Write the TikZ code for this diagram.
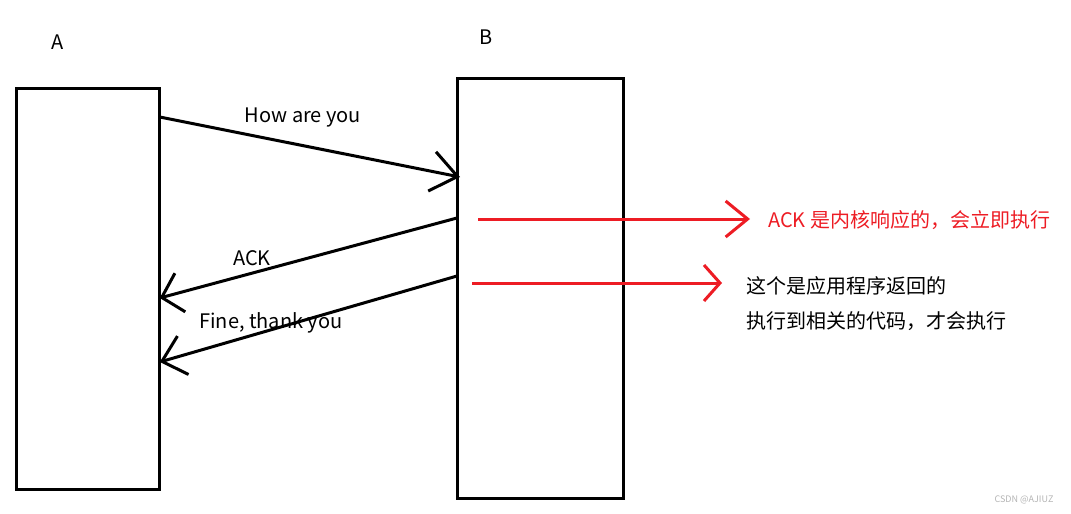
\documentclass[tikz,border=0pt]{standalone}
\usepackage{fontspec}
\setmainfont{Noto Sans CJK SC}
\usetikzlibrary{arrows.meta,positioning}
\definecolor{pred}{HTML}{ED1C24}
\definecolor{wmark}{HTML}{B4B4B4}

\begin{document}
\begin{tikzpicture}[x=1pt,y=-1pt,
  lane/.style={draw,line width=3pt,inner sep=0pt,outer sep=0pt},
  lbl/.style={font=\fontsize{20}{24}\selectfont,inner sep=0pt},
  msg/.style={line width=3pt,-{Straight Barb[length=#1,width=40pt]}},
  ack/.style={line width=3pt,pred,-{Straight Barb[length=#1,width=36pt]}}]
  \useasboundingbox (0,0) rectangle (1071,514);
  \node[lane,minimum width=143.5pt,minimum height=401pt] (a) at (88,288.5) {};
  \node[lane,minimum width=166pt,minimum height=420pt] (b) at (540,288) {};
  \node[lbl] (la) at (58,42) {A};
  \node[lbl] (lb) at (486,37) {B};
  % messages between A and B
  \draw[msg=26pt] ([yshift=-29pt]a.north east) -- ([yshift=-99pt,xshift=3pt]b.north west);
  \draw[msg=19pt] ([yshift=-140pt]b.north west) -- ([yshift=-210pt]a.north east);
  \draw[msg=22pt] ([yshift=-198pt]b.north west) -- ([yshift=-274pt]a.north east);
  \node[lbl] (m1) at (303,118) {How are you};
  \node[lbl] (m2) at (252,258) {ACK};
  \node[lbl] (m3) at (271,323) {Fine, thank you};
  % notes on the right
  \node[lbl,pred,anchor=west] (t1) at (768,220) {ACK 是内核响应的，会立即执行};
  \node[lbl,anchor=north west,align=left,font=\fontsize{20}{35}\selectfont] (t2) at (746,276)
    {这个是应用程序返回的\\执行到相关的代码，才会执行};
  \coordinate (r2) at (0,283);
  \draw[ack=22pt] ([xshift=21pt]b.west |- 0,219) -- ([xshift=-18pt]t1.west |- 0,219);
  \draw[ack=16pt] ([xshift=15pt]b.west |- r2) -- ([xshift=-24pt]t2.west |- r2);
  \node[font=\fontsize{9}{10}\selectfont,text=wmark,inner sep=0pt] (wm) at (1024,500) {CSDN @AJIUZ};
\end{tikzpicture}
\end{document}
